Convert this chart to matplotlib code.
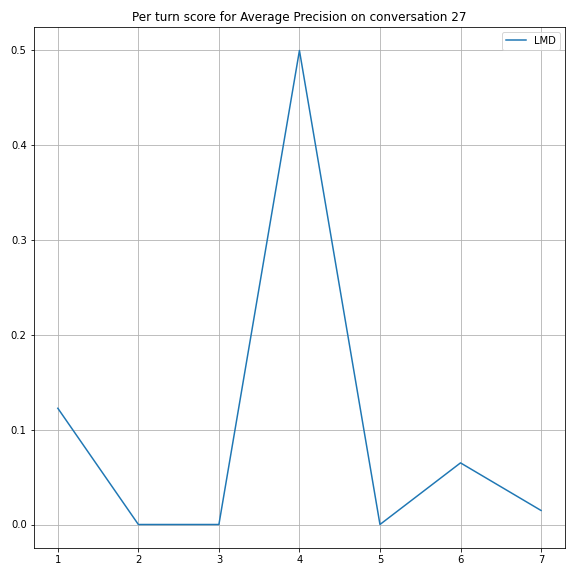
import matplotlib.pyplot as plt

turns = [1, 2, 3, 4, 5, 6, 7]
lmd_scores = [0.1226, 0.0, 0.0, 0.5, 0.0, 0.065, 0.0148]

fig = plt.figure(figsize=(8, 8), dpi=72)
plt.plot(turns, lmd_scores, label='LMD')
plt.title('Per turn score for Average Precision on conversation 27')
plt.legend()
plt.grid(True)
plt.tight_layout()
plt.savefig('out.png')
